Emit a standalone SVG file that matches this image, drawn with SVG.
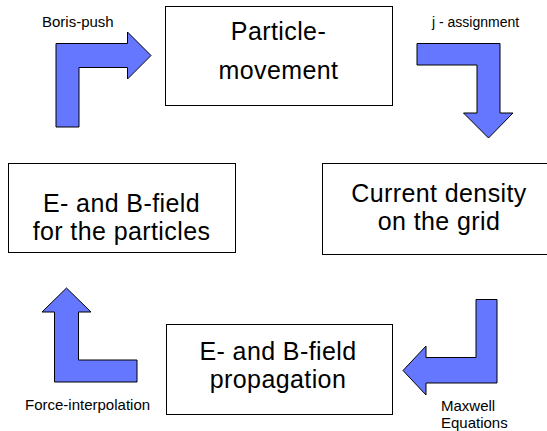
<svg xmlns="http://www.w3.org/2000/svg" width="547" height="431" viewBox="0 0 547 431">
<style>
.box{fill:#ffffff;stroke:#000000;stroke-width:1}
.big{font-family:"Liberation Sans",Arial,sans-serif;font-size:25px;letter-spacing:0.4px;fill:#000000;text-anchor:middle}
.lbl{font-family:"Liberation Sans",Arial,sans-serif;font-size:15px;fill:#000000}
.arr{fill:#6677FF;stroke:#000000;stroke-width:1;stroke-linejoin:miter}
</style>
<rect width="547" height="431" fill="#ffffff"/>
<g id="particle-movement">
<rect class="box" x="165.5" y="6.5" width="227" height="99"/>
<text class="big" x="278.5" y="40">Particle-</text>
<text class="big" x="278.5" y="79">movement</text>
</g>
<g id="current-density">
<rect class="box" x="322.5" y="163.5" width="232" height="91"/>
<text class="big" x="439" y="202">Current density</text>
<text class="big" x="439" y="230">on the grid</text>
</g>
<g id="field-propagation">
<rect class="box" x="166.5" y="324.5" width="226" height="90"/>
<text class="big" x="278" y="360">E- and B-field</text>
<text class="big" x="278" y="388">propagation</text>
</g>
<g id="field-particles">
<rect class="box" x="8.5" y="163.5" width="227" height="89"/>
<text class="big" x="121.5" y="212">E- and B-field</text>
<text class="big" x="121.5" y="240">for the particles</text>
</g>
<g id="connectors">
<polygon class="arr" points="56,127 56,43.5 127.5,43.5 127.5,32 151,55.5 127.5,79 127.5,67.5 79,67.5 79,127"/>
<polygon class="arr" points="417,43.5 500,43.5 500,113 513,113 488.5,138 463.5,113 477,113 477,65 417,65"/>
<polygon class="arr" points="497,299.5 497,383 426,383 426,395 403,370.5 426,346 426,357.5 476,357.5 476,299.5"/>
<polygon class="arr" points="137,382 54.5,382 54.5,312 42,312 66.5,288 91,312 78.5,312 78.5,360 137,360"/>
<text class="lbl" x="42" y="27">Boris-push</text>
<text class="lbl" x="432" y="27" style="font-size:14px">j - assignment</text>
<text class="lbl" x="441" y="411">Maxwell</text>
<text class="lbl" x="441" y="428">Equations</text>
<text class="lbl" x="25" y="410">Force-interpolation</text>
</g>
</svg>
